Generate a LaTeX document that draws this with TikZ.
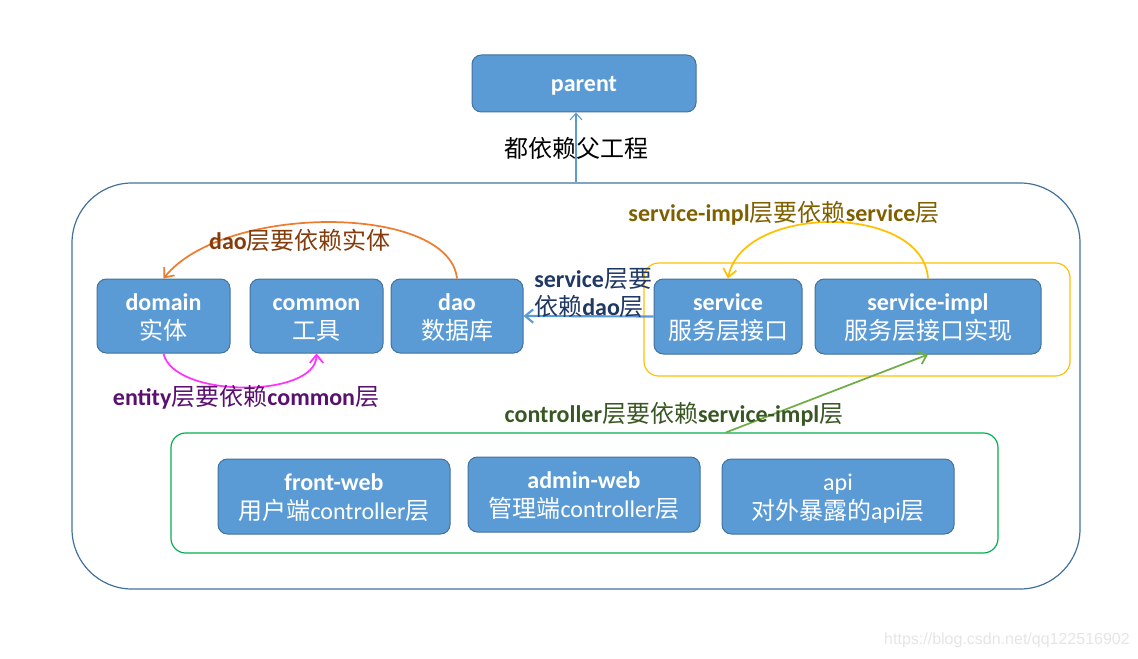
\documentclass[tikz,border=0pt]{standalone}
\usepackage{fontspec}
\setmainfont{Carlito}
\newfontfamily\cjk{Noto Sans CJK SC}
\newfontfamily\wmfont{Liberation Sans}
\usepackage{tikz}
\usetikzlibrary{arrows.meta,calc}
\usepackage{xcolor}
\definecolor{boxfill}{HTML}{5B9BD5}
\definecolor{boxline}{HTML}{41719C}
\definecolor{outerline}{HTML}{41719C}
\definecolor{implline}{HTML}{FFC000}
\definecolor{webline}{HTML}{00B050}
\definecolor{daodep}{HTML}{ED7D31}
\definecolor{entdep}{HTML}{FF33FF}
\definecolor{ctrldep}{HTML}{70AD47}
\definecolor{daotext}{HTML}{843C0C}
\definecolor{enttext}{HTML}{5A106E}
\definecolor{srvtext}{HTML}{1F3864}
\definecolor{impltext}{HTML}{7F6000}
\definecolor{ctrltext}{HTML}{385723}
\def\zh#1{{\cjk\mdseries #1}}
\def\modstrut{\rule[-2pt]{0pt}{17pt}}
\def\Mod#1#2{\modstrut#1\\\modstrut#2}
\tikzset{
	module/.style={draw=boxline, fill=boxfill, rounded corners=7pt,
		text=white, align=center, inner sep=0pt, line width=0.75pt,
		font=\fontsize{18}{21.75}\selectfont},
	group box/.style={line width=0.9pt, inner sep=0pt},
	dep label/.style={font=\fontsize{18}{21}\selectfont\bfseries, inner sep=0pt},
	dep/.style={line width=1.3pt, -{Straight Barb[length=6pt,width=10pt]}}
}

\begin{document}
\begin{tikzpicture}[x=0.75pt, y=-0.75pt]
\useasboundingbox (0,0) rectangle (1138,659);
% outer and group frames
\node (project) [group box, draw=outerline, rounded corners=45pt,
	minimum width=756pt, minimum height=304.5pt] at (576,386) {};
\node (implgroup) [group box, draw=implline, rounded corners=11pt,
	minimum width=319.5pt, minimum height=84.75pt] at (857,319.5) {};
\node (webgroup) [group box, draw=webline, rounded corners=11pt,
	minimum width=620.25pt, minimum height=90pt] at (584.5,493) {};

% modules
\node (parent) [module, minimum width=168pt, minimum height=42.75pt] at (584,83.5) {\modstrut\textbf{parent}};
\node (domain) [module, minimum width=99.75pt, minimum height=55.5pt] at (163.5,316) {\Mod{\textbf{domain}}{\zh{实体}}};
\node (common) [module, minimum width=99.75pt, minimum height=55.5pt] at (316.5,316) {\Mod{\textbf{common}}{\zh{工具}}};
\node (dao) [module, minimum width=99pt, minimum height=55.5pt] at (457,316) {\Mod{\textbf{dao}}{\zh{数据库}}};
\node (service) [module, minimum width=111pt, minimum height=56.25pt] at (728,316.5) {\Mod{\textbf{service}}{\zh{服务层接口}}};
\node (srvimpl) [module, minimum width=169.5pt, minimum height=56.25pt] at (928,316.5) {\Mod{\textbf{service-impl}}{\zh{服务层接口实现}}};
\node (frontweb) [module, minimum width=174pt, minimum height=56.25pt] at (334,496.5) {\Mod{\textbf{front-web}}{\zh{用户端}controller\zh{层}}};
\node (adminweb) [module, minimum width=174pt, minimum height=56.25pt] at (584,494.5) {\Mod{\textbf{admin-web}}{\zh{管理端}controller\zh{层}}};
\node (api) [module, minimum width=174pt, minimum height=56.25pt] at (838,496.5) {\Mod{api}{\zh{对外暴露的}api\zh{层}}};

% dependencies
\draw[boxfill, line width=0.8pt, -{Straight Barb[length=5pt,width=9pt]}] (project.north) -- (project.north |- parent.south);
\node (parentlbl) [inner sep=0pt, font=\fontsize{18}{21}\selectfont] at (576,148) {\zh{都依赖父工程}};

\draw[dep, daodep] (dao.north) .. controls +(-8,-75) and +(60,-75) .. (domain.north);
\node (daolbl) [dep label, text=daotext] at (300,240) {dao\zh{层要依赖实体}};

\draw[dep, entdep] (domain.south) .. controls +(10,45) and +(0,45) .. (common.south);
\node (entlbl) [dep label, text=enttext] at (246,397) {entity\zh{层要依赖}common\zh{层}};

\draw[dep, boxfill, line width=1.6pt] (service.west) -- (dao.east);
\node (srvlbl) [dep label, text=srvtext, align=left, anchor=west] at (534,293) {service\zh{层要}\\\zh{依赖}dao\zh{层}};

\draw[dep, implline] (srvimpl.north) .. controls +(-5,-75) and +(15,-75) .. (service.north);
\node (impllbl) [dep label, text=impltext] at (784,213) {service-impl\zh{层要依赖}service\zh{层}};

\coordinate (webout) at ($(webgroup.north)+(141.5,0)$);
\draw[dep, ctrldep] (webout) -- (srvimpl.south);
\node (ctrllbl) [dep label, text=ctrltext] at (674,414) {controller\zh{层要依赖}service-impl\zh{层}};

\node (mark) [inner sep=0pt, text=black!10, font=\wmfont\fontsize{12}{14}\selectfont] at (1007,640) {https://blog.csdn.net/qq122516902};
\end{tikzpicture}
\end{document}
